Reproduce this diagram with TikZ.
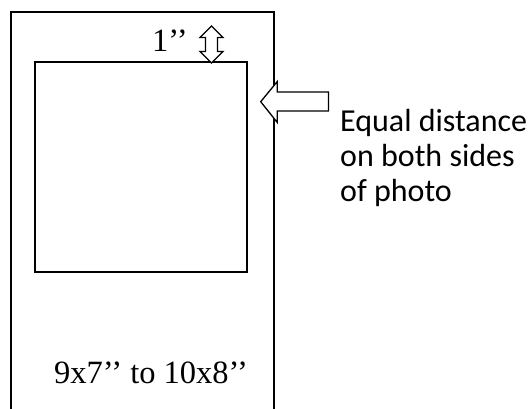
\documentclass[tikz,border=0pt]{standalone}
\usepackage{fontspec}
\setmainfont{Liberation Serif}
\newfontfamily\calfont{Carlito}
\begin{document}
\begin{tikzpicture}[x=1pt,y=-1pt,
  frame/.style={draw=black,line width=1.6pt},
  photo/.style={draw=black,line width=1.7pt},
  hollowarrow/.style={draw=black,fill=white,line width=1.3pt,line join=miter},
  serlabel/.style={anchor=base west,inner sep=0pt,font=\fontsize{32.5}{35}\selectfont},
  sanslabel/.style={anchor=base west,inner sep=0pt,align=left,font=\calfont\fontsize{32}{35}\selectfont}]
\useasboundingbox (0,0) rectangle (531,409);
\begin{scope}
\clip (0,0) rectangle (531,409);
\draw[frame] (11,412) -- (11,12) -- (274,12) -- (274,412);
\end{scope}
\draw[photo] (35,62) rectangle (247,272);
% double arrow (1'' gap)
\draw[hollowarrow] (211.5,26) -- (223,37.5) -- (217.5,37.5) -- (217.5,51.5) -- (223,51.5)
  -- (211.5,63) -- (200,51.5) -- (205.5,51.5) -- (205.5,37.5) -- (200,37.5) -- cycle;
% left-pointing hollow arrow
\draw[hollowarrow] (260.7,101.7) -- (277.3,81.5) -- (277.3,92) -- (328.5,92) -- (328.5,111)
  -- (277.3,111) -- (277.3,122.5) -- cycle;
\node[serlabel] (gap) at (152,52) {1’’};
\node[serlabel] (size) at (54,383) {9x7’’ to 10x8’’};
\node[sanslabel] (note) at (340,201.7) {Equal distance\\on both sides\\of photo};
\end{tikzpicture}
\end{document}
